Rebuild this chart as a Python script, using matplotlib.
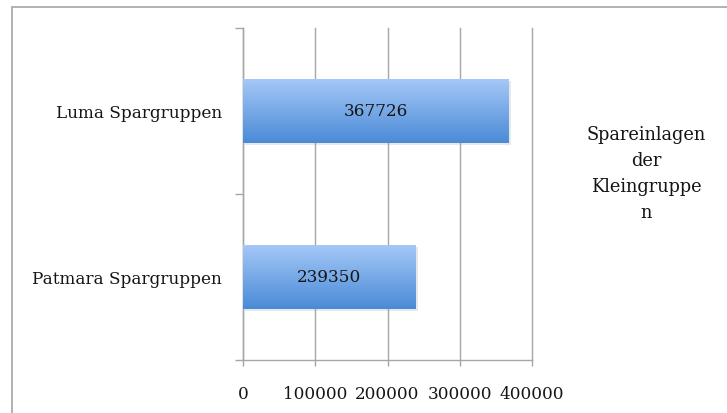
import numpy as np
import matplotlib
matplotlib.use("Agg")
import matplotlib.pyplot as plt
import matplotlib.patheffects as pe
from matplotlib.patches import Rectangle
from matplotlib.colors import LinearSegmentedColormap

# Spareinlagen je Kleingruppe
groups = ["Patmara Spargruppen", "Luma Spargruppen"]
savings = [239350, 367726]
xticks = [0, 100000, 200000, 300000, 400000]
legend_label = "Spareinlagen\nder\nKleingruppe\nn"

plt.rcParams["font.family"] = "DejaVu Serif"
grid_grey = "#a6a6a6"

fig = plt.figure(figsize=(7.27, 4.14), dpi=100)
ax = fig.add_axes([243 / 727, 1 - 361 / 414, (532 - 243) / 727, (361 - 29) / 414])

# outer chart frame (runs off the right and bottom edge)
fig.patches.append(Rectangle((12 / 727, -0.1), 1.0, 1.1 - 7.5 / 414,
                             transform=fig.transFigure, fill=False,
                             edgecolor="#ababab", linewidth=1.3))

bar_h = 0.39
ypos = np.arange(len(groups)) + 0.5
grad = LinearSegmentedColormap.from_list("bar", ["#4a8ad6", "#a6c9f8"])
shade = np.linspace(0, 1, 256).reshape(-1, 1)

bars = ax.barh(ypos, savings, height=bar_h, color="#79aaea", zorder=3,
               path_effects=[pe.SimplePatchShadow(offset=(1.5, -1.5), shadow_rgbFace="#999999", alpha=0.22),
                             pe.Normal()])
for bar, y, v in zip(bars, ypos, savings):
    img = ax.imshow(shade, cmap=grad, aspect="auto", origin="lower",
                    extent=[0, v, y - bar_h / 2, y + bar_h / 2], zorder=4)
    img.set_clip_path(bar)
    ax.text(v / 2, y, str(v), ha="center", va="center", fontsize=12.2,
            color="#151515", zorder=5)

ax.set_xlim(0, 400000)
ax.set_ylim(0, len(groups))

ax.set_xticks(xticks)
ax.set_xticklabels([str(t) for t in xticks], fontsize=12.2, color="#151515")
ax.tick_params(axis="x", length=4, width=1, color=grid_grey, pad=14)
ax.xaxis.grid(True, color=grid_grey, linewidth=1, zorder=0)
for gl in ax.get_xgridlines():
    gl.set_clip_on(False)

ax.set_yticks(ypos)
ax.set_yticklabels(groups, fontsize=12.2, color="#151515")
ax.set_yticks(np.arange(len(groups) + 1), minor=True)
ax.tick_params(axis="y", which="major", length=0, pad=15)
ax.tick_params(axis="y", which="minor", length=6, width=1, color=grid_grey)

for side in ["top", "right"]:
    ax.spines[side].set_visible(False)
for side in ["left", "bottom"]:
    ax.spines[side].set_color(grid_grey)
    ax.spines[side].set_linewidth(1)
ax.set_axisbelow(True)

fig.text(646 / 727, 1 - 174 / 414, legend_label, ha="center", va="center",
         fontsize=12.8, linespacing=1.55, color="#151515")

fig.savefig("out.png", dpi=100)
